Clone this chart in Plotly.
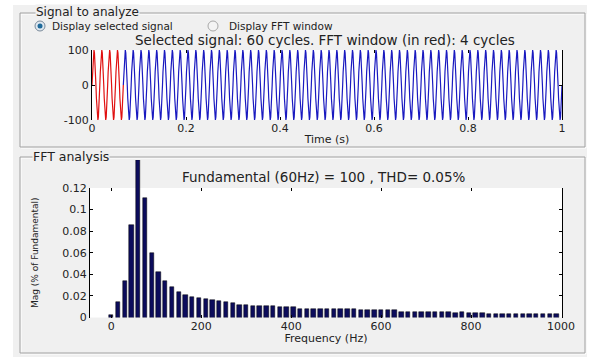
import numpy as np
import plotly.graph_objects as go

W, H = 591, 360

# ---------------- data ----------------
# one period of the analysed 60 Hz signal (amplitude: +/-100)
signal_cycle = [0, 38, 71, 92, 100, 92, 71, 38, 0, -38, -71, -92, -100, -92, -71, -38]
n_cycles = 60          # "Selected signal: 60 cycles"
fft_cycles = 4         # "FFT window (in red): 4 cycles"
f0 = 60                # Hz

# FFT bins (15 Hz resolution) and magnitudes (fraction of fundamental)
freq_step = 15
fft_mag = [0.002, 0.014, 0.034, 0.086, 0.146, 0.111, 0.060, 0.042, 0.034, 0.028,
           0.024, 0.021, 0.019, 0.018, 0.017, 0.016, 0.015, 0.014, 0.013, 0.012,
           0.012, 0.011, 0.011, 0.0105, 0.0105, 0.010, 0.010, 0.0098, 0.0082, 0.008,
           0.008, 0.0078, 0.0078, 0.0076, 0.0076, 0.0075, 0.0075, 0.0074, 0.0074, 0.0073,
           0.0072, 0.0072, 0.0071, 0.0052, 0.005, 0.0052, 0.0049, 0.0048, 0.005, 0.0047,
           0.0047, 0.0046, 0.0048, 0.0046, 0.0045, 0.0045, 0.0034, 0.0033, 0.0034, 0.0032,
           0.0033, 0.0032, 0.0033, 0.0031, 0.0032, 0.0031, 0.0031]
freqs = [i * freq_step for i in range(len(fft_mag))]

top_yticks = [-100, 0, 100]
top_yticklabels = ["-100", "0", "100"]
top_xticks = [0, 0.2, 0.4, 0.6, 0.8, 1]
top_xticklabels = ["0", "0.2", "0.4", "0.6", "0.8", "1"]
bot_xticks = [0, 200, 400, 600, 800, 1000]
bot_yticks = [0, 0.02, 0.04, 0.06, 0.08, 0.1, 0.12]
bot_yticklabels = ["0", "0.02", "0.04", "0.06", "0.08", "0.1", "0.12"]

# build time series from the observed periodic waveform
spc = len(signal_cycle)
sig = np.tile(np.array(signal_cycle, dtype=float), n_cycles)
t = np.arange(len(sig) + 1) / (f0 * spc)
sig = np.append(sig, signal_cycle[0])
n_red = fft_cycles * spc

# fundamental bin (drawn on a taller overlay so it can run past the axes top)
k_fund = f0 // freq_step
other_f = [f for i, f in enumerate(freqs) if i != k_fund]
other_m = [m for i, m in enumerate(fft_mag) if i != k_fund]

FONT = "DejaVu Sans"
TXT = "#222222"
GRAY = "#f0f0f0"

def px(x):
    return x / W

def py(y):
    return 1 - y / H

T_L, T_R, T_TOP, T_BOT = 92, 562, 50, 120
B_L, B_R, B_TOP, B_BOT = 90, 562, 188, 317.5
B_EXT = 160
xr2 = [-47, 1002]
yr2 = [0, 0.12]
yr3_top = yr2[1] * (B_BOT - B_EXT) / (B_BOT - B_TOP)

fig = go.Figure()

fig.add_trace(go.Scatter(x=t[n_red:], y=sig[n_red:], mode="lines",
                         line=dict(color="#1a1ac0", width=1.2), xaxis="x", yaxis="y",
                         showlegend=False, hoverinfo="skip"))
fig.add_trace(go.Scatter(x=t[:n_red + 1], y=sig[:n_red + 1], mode="lines",
                         line=dict(color="#e01010", width=1.2), xaxis="x", yaxis="y",
                         showlegend=False, hoverinfo="skip"))

barstyle = dict(color="#0c0c5c", line=dict(color="#000000", width=0.5))
fig.add_trace(go.Bar(x=other_f, y=other_m, width=9.5, xaxis="x2", yaxis="y2",
                     marker=barstyle, showlegend=False))
fig.add_trace(go.Bar(x=[freqs[k_fund]], y=[fft_mag[k_fund]], width=9.5, xaxis="x3", yaxis="y3",
                     marker=barstyle, showlegend=False))

axfont = dict(family=FONT, size=11, color=TXT)
common = dict(ticks="inside", ticklen=3, tickcolor="#000", showgrid=False, zeroline=False,
              tickfont=axfont, automargin=False)

fig.update_layout(
    template="none",
    width=W, height=H, autosize=False,
    margin=dict(l=0, r=0, t=0, b=0, pad=0),
    paper_bgcolor=GRAY, plot_bgcolor="rgba(0,0,0,0)",
    font=dict(family=FONT, color=TXT),
    bargap=0,
    xaxis=dict(domain=[px(T_L), px(T_R)], anchor="y", range=[0, 1],
               tickvals=top_xticks, ticktext=top_xticklabels,
               showline=False, mirror="ticks",
               title=dict(text="Time (s)", font=dict(family=FONT, size=11, color=TXT), standoff=1),
               **common),
    yaxis=dict(domain=[py(T_BOT), py(T_TOP)], anchor="x", range=[-100, 100],
               tickvals=top_yticks, ticktext=top_yticklabels,
               showline=True, linecolor="#000", linewidth=1, mirror="ticks", **common),
    xaxis2=dict(domain=[px(B_L), px(B_R)], anchor="y2", range=xr2,
                tickvals=bot_xticks, showline=False, mirror="ticks",
                title=dict(text="Frequency (Hz)", font=dict(family=FONT, size=11, color=TXT), standoff=1),
                **common),
    yaxis2=dict(domain=[py(B_BOT), py(B_TOP)], anchor="x2", range=yr2,
                tickvals=bot_yticks, ticktext=bot_yticklabels,
                showline=True, linecolor="#000", linewidth=1, mirror="ticks",
                title=dict(text="Mag (% of Fundamental)", font=dict(family=FONT, size=9, color=TXT), standoff=22),
                **common),
    xaxis3=dict(domain=[px(B_L), px(B_R)], anchor="y3", range=xr2, visible=False),
    yaxis3=dict(domain=[py(B_BOT), py(B_EXT)], anchor="x3", range=[0, yr3_top], visible=False),
)

shapes = []
for (x0, y0, x1, y1) in [(T_L, T_TOP, T_R, T_BOT), (B_L, B_TOP, B_R, B_BOT)]:
    shapes.append(dict(type="rect", xref="paper", yref="paper", x0=px(x0), x1=px(x1),
                       y0=py(y1), y1=py(y0), fillcolor="white", line=dict(width=0), layer="below"))
for (x0, y0, x1, y1) in [(0, 0, 13, 360), (0, 0, 591, 5), (587, 0, 591, 360), (0, 357, 591, 360)]:
    shapes.append(dict(type="rect", xref="paper", yref="paper", x0=px(x0), x1=px(x1),
                       y0=py(y1), y1=py(y0), fillcolor="white", line=dict(width=0), layer="above"))
for (x0, y0, x1, y1) in [(20, 13, 585, 147), (20, 157, 585, 353)]:
    shapes.append(dict(type="rect", xref="paper", yref="paper", x0=px(x0 + 1), x1=px(x1 + 1),
                       y0=py(y1 + 1), y1=py(y0 + 1), line=dict(color="white", width=1)))
    shapes.append(dict(type="rect", xref="paper", yref="paper", x0=px(x0), x1=px(x1),
                       y0=py(y1), y1=py(y0), line=dict(color="#a0a0a0", width=1)))
shapes.append(dict(type="circle", xref="paper", yref="paper", x0=px(35), x1=px(45),
                   y0=py(31), y1=py(21), fillcolor="#dfe8f0", line=dict(color="#7a8a9a", width=1)))
shapes.append(dict(type="circle", xref="paper", yref="paper", x0=px(37.5), x1=px(42.5),
                   y0=py(28.5), y1=py(23.5), fillcolor="#1f6a9a", line=dict(width=0)))
shapes.append(dict(type="circle", xref="paper", yref="paper", x0=px(208), x1=px(218),
                   y0=py(31), y1=py(21), fillcolor="#f4f4f4", line=dict(color="#a8a8a8", width=1)))
fig.update_layout(shapes=shapes)

ann = []
def label(x, y, text, size=11, anchor="left", bg=None):
    d = dict(xref="paper", yref="paper", x=px(x), y=py(y), text=text, showarrow=False,
             xanchor=anchor, yanchor="middle", font=dict(family=FONT, size=size, color=TXT))
    if bg:
        d["bgcolor"] = bg
        d["borderpad"] = 0
    ann.append(d)

label(35, 11.5, "Signal to analyze", size=12, bg=GRAY)
label(50, 26, "Display selected signal", size=10.5)
label(227, 26, "Display FFT window", size=10.5)
label(325, 40, "Selected signal: 60 cycles. FFT window (in red): 4 cycles", size=13.5, anchor="center")
label(32, 156, "FFT analysis", size=12.5, bg=GRAY)
label(324, 177, "Fundamental (60Hz) = 100 , THD= 0.05%", size=13.5, anchor="center")
fig.update_layout(annotations=ann)

fig.write_html("out.html", config={"displayModeBar": False},
               post_script="document.body.style.margin='0';document.body.style.padding='0';")
